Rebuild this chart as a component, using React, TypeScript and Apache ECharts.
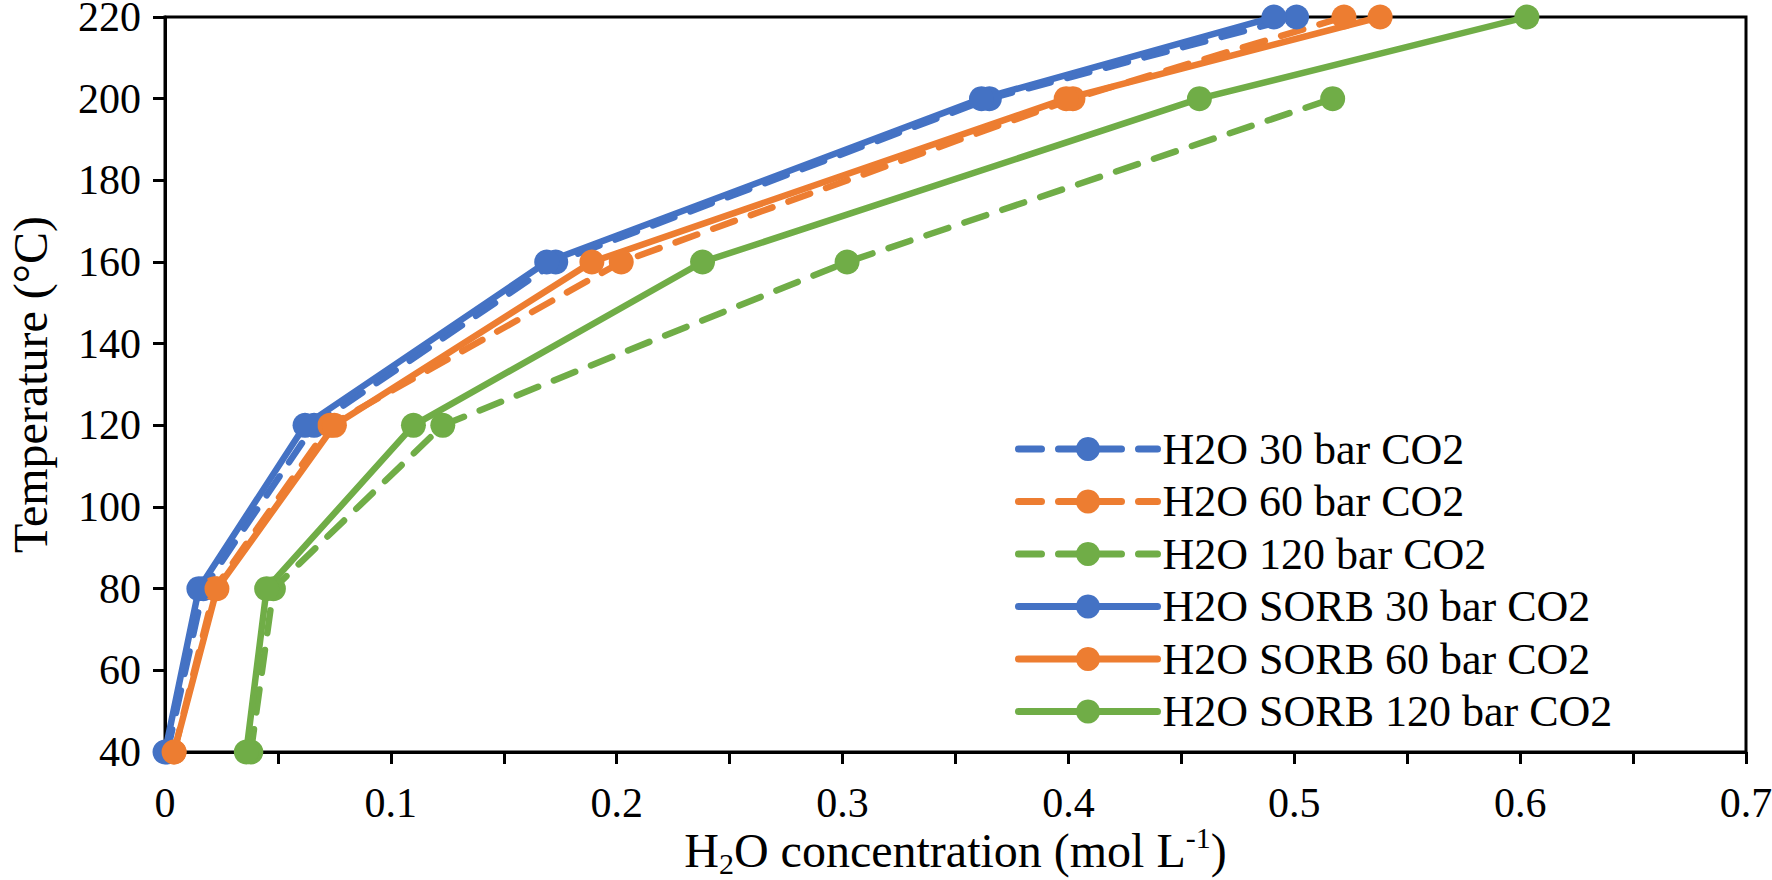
import React, { useEffect, useRef } from "react";
import * as echarts from "echarts";

const temps = [40, 80, 120, 160, 200, 220];
const h2o30 = [0.001, 0.017, 0.066, 0.173, 0.365, 0.501];
const h2o60 = [0.004, 0.022, 0.073, 0.202, 0.402, 0.522];
const h2o120 = [0.038, 0.048, 0.123, 0.302, 0.517];
const sorb30 = [0.0, 0.015, 0.062, 0.169, 0.3615, 0.491];
const sorb60 = [0.004, 0.023, 0.075, 0.189, 0.399, 0.538];
const sorb120 = [0.036, 0.045, 0.11, 0.238, 0.458, 0.603];

const seriesNames = [
  "H2O 30 bar CO2",
  "H2O 60 bar CO2",
  "H2O 120 bar CO2",
  "H2O SORB 30 bar CO2",
  "H2O SORB 60 bar CO2",
  "H2O SORB 120 bar CO2",
];
const xTicks = { min: 0, max: 0.7, interval: 0.1 };
const yTicks = { min: 40, max: 220, interval: 20 };

const BLUE = "#4472C4";
const ORANGE = "#ED7D31";
const GREEN = "#70AD47";
const FONT = "Liberation Serif";

function pairs(xs: number[]) {
  return xs.map((x, i) => [x, temps[i]]);
}

export default function App() {
  const ref = useRef<HTMLDivElement>(null);
  useEffect(() => {
    if (!ref.current) return;
    const chart = echarts.init(ref.current, undefined, { renderer: "svg" });
    const mk = (name: string, xs: number[], color: string, dashed: boolean) => ({
      name,
      type: "line",
      data: pairs(xs),
      symbol: "circle",
      symbolSize: 25,
      showSymbol: true,
      itemStyle: { color },
      lineStyle: {
        color,
        width: 6.5,
        type: dashed ? [23, 17] : "solid",
        cap: "round",
      },
      emphasis: { disabled: true },
    });
    chart.setOption({
      animation: false,
      backgroundColor: "#ffffff",
      grid: {
        left: 165,
        right: 26,
        top: 17,
        bottom: 128,
        outerBoundsMode: "none",
        containLabel: false,
        show: true,
        borderColor: "#000",
        borderWidth: 3,
        backgroundColor: "transparent",
      },
      legend: {
        orient: "vertical",
        left: 1010,
        top: 422,
        itemWidth: 139,
        itemHeight: 30,
        itemGap: 8.5,
        data: seriesNames,
        lineStyle: { width: 7, cap: "round" },
        textStyle: { fontFamily: FONT, fontSize: 44, color: "#000", lineHeight: 43 },
      },
      xAxis: {
        type: "value",
        min: xTicks.min,
        max: xTicks.max,
        interval: xTicks.interval,
        splitLine: { show: false },
        axisLine: { lineStyle: { color: "#000", width: 3 } },
        axisTick: { show: true, inside: false, length: 12, lineStyle: { color: "#000", width: 3 } },
        minorTick: { show: true, splitNumber: 2, length: 12, lineStyle: { color: "#000", width: 3 } },
        axisLabel: { fontFamily: FONT, fontSize: 42, color: "#000", margin: 36, lineHeight: 30 },
        name: "{a|H}{sub|2}{a|O concentration (mol L}{sup|-1}{a|)}",
        nameLocation: "middle",
        nameGap: 70,
        nameMoveOverlap: false,
        nameTextStyle: {
          fontFamily: FONT,
          color: "#000",
          rich: {
            a: { fontFamily: FONT, fontSize: 48, color: "#000", lineHeight: 56, verticalAlign: "middle" },
            sub: { fontFamily: FONT, fontSize: 30, color: "#000", lineHeight: 56, verticalAlign: "bottom" },
            sup: { fontFamily: FONT, fontSize: 30, color: "#000", lineHeight: 56, verticalAlign: "top" },
          },
        },
      },
      yAxis: {
        type: "value",
        min: yTicks.min,
        max: yTicks.max,
        interval: yTicks.interval,
        splitLine: { show: false },
        axisLine: { lineStyle: { color: "#000", width: 3 } },
        axisTick: { show: true, inside: false, length: 12, lineStyle: { color: "#000", width: 3 } },
        axisLabel: { fontFamily: FONT, fontSize: 42, color: "#000", margin: 24, lineHeight: 30 },
        name: "Temperature (°C)",
        nameLocation: "middle",
        nameGap: 111,
        nameMoveOverlap: false,
        nameRotate: 90,
        nameTextStyle: { fontFamily: FONT, fontSize: 48, color: "#000" },
      },
      series: [
        mk(seriesNames[0], h2o30, BLUE, true),
        mk(seriesNames[1], h2o60, ORANGE, true),
        mk(seriesNames[2], h2o120, GREEN, true),
        mk(seriesNames[3], sorb30, BLUE, false),
        mk(seriesNames[4], sorb60, ORANGE, false),
        mk(seriesNames[5], sorb120, GREEN, false),
      ],
    });
    return () => chart.dispose();
  }, []);
  return (
    <div
      ref={ref}
      style={{ position: "fixed", left: 0, top: 0, width: 1772, height: 880, background: "#fff" }}
    />
  );
}
